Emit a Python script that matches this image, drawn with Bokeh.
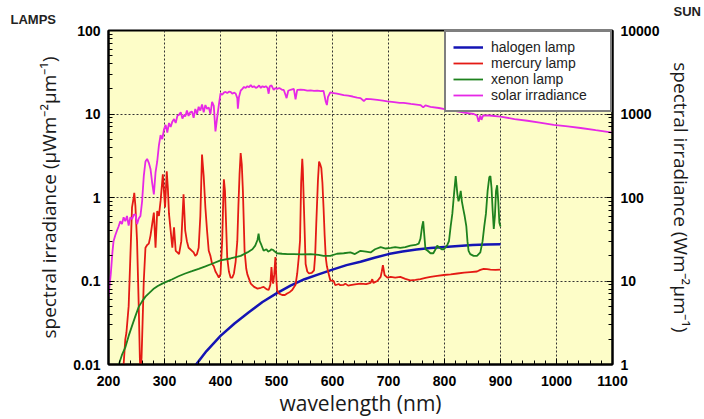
from bokeh.plotting import figure
from bokeh.models import (Range1d, LogScale, LogAxis, FixedTicker, CustomJSTickFormatter,
                          Legend, LegendItem, Label)
from bokeh.embed import file_html
from bokeh.resources import INLINE

# ---------------- data ----------------
halogen_wl = [355, 375, 400, 425, 450, 475, 500, 525, 550, 575, 600, 625, 650, 675, 700,
              725, 750, 775, 800, 825, 850, 875, 900]
halogen_val = [0.0097, 0.0145, 0.022, 0.031, 0.042, 0.056, 0.071, 0.088, 0.105, 0.12, 0.137,
               0.155, 0.17, 0.19, 0.21, 0.225, 0.238, 0.248, 0.256, 0.263, 0.27, 0.273, 0.275]

mercury_wl = [224, 227, 230, 232, 236, 240, 242, 245, 246, 248, 251, 254, 256, 257, 259, 260,
              263, 266, 269, 272, 275, 278, 281, 284, 287, 290, 293, 297, 299, 301, 304, 306,
              308, 311, 314, 317, 320, 323, 326, 330, 334, 337, 340, 343, 346, 349, 352, 355,
              358, 361, 364, 367, 370, 373, 376, 379, 382, 385, 388, 391, 394, 397, 400, 403,
              405, 406, 408, 409, 412, 415, 418, 421, 424, 427, 430, 432, 434, 436, 438, 440,
              443, 446, 448, 454, 460, 466, 472, 477, 482, 486, 489, 491, 493, 494, 496, 498,
              500, 501, 504, 510, 515, 519, 524, 528, 534, 537, 540, 542, 544, 546, 547, 549,
              552, 555, 558, 563, 567, 569, 571, 574, 576, 578, 580, 582, 584, 586, 588, 590,
              593, 596, 602, 605, 611, 614, 620, 623, 628, 632, 640, 650, 660, 668, 671, 673,
              680, 686, 688, 690, 693, 698, 704, 712, 721, 730, 739, 748, 757, 766, 775, 787,
              799, 811, 823, 835, 846, 858, 864, 870, 876, 882, 891, 900]
mercury_val = [0.006, 0.01, 0.02, 0.024, 0.05, 0.3, 0.76, 1.0, 1.14, 0.8, 0.3, 0.05, 0.012, 0.008,
               0.012, 0.02, 0.1, 0.25, 0.27, 0.28, 0.35, 0.48, 0.66, 0.25, 0.69, 0.6, 0.91, 1.89,
               1.2, 0.76, 2.06, 1.3, 0.64, 0.4, 0.25, 0.44, 0.23, 0.22, 0.21, 0.3, 1.09, 0.40,
               0.3, 0.25, 0.24, 0.23, 0.22, 0.20, 0.21, 0.25, 0.6, 3.27, 1.8, 0.76, 0.4, 0.23,
               0.2, 0.16, 0.15, 0.13, 0.12, 0.11, 0.12, 0.30, 1.0, 1.65, 1.2, 0.76, 0.19, 0.13,
               0.11, 0.11, 0.123, 0.17, 0.30, 0.8, 1.89, 3.4, 2.5, 1.2, 0.23, 0.14, 0.12, 0.093,
               0.085, 0.081, 0.083, 0.085, 0.08, 0.078, 0.09, 0.147, 0.1, 0.093, 0.12, 0.193,
               0.1, 0.078, 0.071, 0.068, 0.068, 0.071, 0.074, 0.078, 0.09, 0.123, 0.2, 0.305,
               1.5, 2.9, 2.2, 0.76, 0.16, 0.13, 0.123, 0.125, 0.134, 0.2, 0.48, 1.6, 2.7, 2.5,
               2.26, 1.5, 0.76, 0.35, 0.19, 0.15, 0.123, 0.102, 0.1, 0.089, 0.092, 0.089, 0.09,
               0.093, 0.088, 0.089, 0.091, 0.093, 0.092, 0.095, 0.105, 0.095, 0.1, 0.112, 0.13,
               0.155, 0.118, 0.11, 0.112, 0.11, 0.112, 0.106, 0.102, 0.103, 0.105, 0.109, 0.112,
               0.115, 0.118, 0.12, 0.123, 0.126, 0.128, 0.13, 0.136, 0.14, 0.139, 0.137, 0.136,
               0.137]

xenon_wl = [218, 224, 230, 236, 242, 248, 254, 260, 266, 272, 280, 288, 296, 305, 314, 325, 337,
            349, 361, 373, 385, 400, 418, 436, 448, 457, 462, 466, 468, 470, 473, 477, 482, 485,
            488, 491, 494, 497, 501, 510, 520, 531, 545, 561, 575, 584, 596, 608, 620, 632, 640,
            650, 660, 668, 676, 686, 695, 704, 712, 721, 730, 739, 748, 754, 757, 760, 762, 764,
            766, 770, 775, 780, 784, 787, 791, 795, 799, 805, 808, 811, 814, 817, 820, 823, 825,
            827, 829, 831, 834, 836, 839, 841, 843, 846, 852, 858, 864, 868, 871, 874, 877, 880,
            882, 884, 886, 888, 890, 892, 894, 896, 898, 900]
xenon_val = [0.0098, 0.013, 0.016, 0.022, 0.029, 0.038, 0.049, 0.057, 0.065, 0.071, 0.08, 0.087,
             0.093, 0.099, 0.105, 0.114, 0.123, 0.131, 0.14, 0.15, 0.161, 0.177, 0.186, 0.2,
             0.22, 0.24, 0.265, 0.31, 0.37, 0.3, 0.27, 0.23, 0.24, 0.225, 0.23, 0.24, 0.235,
             0.225, 0.215, 0.212, 0.21, 0.21, 0.208, 0.21, 0.205, 0.2, 0.2, 0.212, 0.215, 0.22,
             0.21, 0.23, 0.225, 0.22, 0.24, 0.254, 0.245, 0.25, 0.255, 0.25, 0.255, 0.265, 0.27,
             0.28, 0.32, 0.45, 0.52, 0.35, 0.24, 0.23, 0.215, 0.215, 0.24, 0.265, 0.25, 0.24,
             0.24, 0.27, 0.3, 0.45, 0.64, 1.1, 1.8, 1.1, 0.9, 1.0, 1.2, 0.9, 0.7, 0.6, 0.45, 0.3,
             0.23, 0.21, 0.2, 0.2, 0.22, 0.3, 0.45, 0.64, 1.2, 1.75, 1.8, 1.3, 0.7, 0.42, 0.6,
             1.2, 1.4, 0.9, 0.5, 0.45]

# solar irradiance in W m^-2 um^-1 (right axis)
solar_wl = [200, 202, 204, 207, 209, 212, 215, 218, 221, 224, 227, 230, 233, 236, 239, 242, 245,
            248, 251, 254, 257, 260, 263, 266, 269, 272, 275, 278, 281, 284, 287, 290, 293, 296,
            299, 302, 305, 308, 311, 314, 317, 320, 323, 326, 329, 332, 335, 337, 340, 343, 346,
            349, 352, 355, 358, 361, 364, 367, 370, 373, 376, 379, 382, 385, 388, 391, 394, 397,
            400, 403, 406, 409, 412, 415, 418, 421, 424, 427, 430, 431, 433, 436, 439, 442, 445,
            448, 451, 454, 457, 460, 463, 466, 469, 472, 475, 478, 481, 484, 486, 488, 491, 495,
            498, 501, 505, 510, 513, 516, 518, 521, 525, 531, 534, 537, 543, 549, 555, 561, 567,
            573, 579, 584, 588, 590, 592, 596, 602, 608, 614, 620, 628, 636, 644, 650, 656, 660,
            668, 680, 690, 698, 710, 720, 727, 740, 757, 762, 766, 775, 790, 805, 820, 835, 852,
            858, 861, 864, 866, 869, 880, 900, 925, 948, 970, 995, 1020, 1043, 1070, 1100]
solar_val = [6.5, 9, 12, 22, 30, 35, 40, 45, 52, 48, 58, 52, 60, 46, 58, 55, 62, 63, 48, 56, 60,
             90, 180, 270, 290, 260, 220, 150, 109, 200, 270, 420, 560, 500, 650, 740, 600, 780,
             700, 810, 870, 780, 950, 980, 1050, 880, 980, 930, 1100, 950, 1050, 1070, 900, 1150,
             1000, 1220, 1100, 1300, 1050, 1280, 1150, 1200, 1000, 1400, 1250, 620, 900, 1280,
             1760, 1700, 1800, 1840, 1780, 1850, 1840, 1750, 1800, 1760, 1550, 1160, 1600, 1900,
             2000, 2110, 2050, 2150, 2100, 2220, 2100, 2150, 2050, 2100, 2200, 2050, 2150, 2100,
             2150, 2050, 1750, 2150, 2200, 1940, 2050, 2000, 2050, 1950, 1940, 1700, 1550, 1900,
             1950, 2000, 1500, 1950, 1960, 1940, 1900, 1920, 1890, 1900, 1880, 1890, 1400, 1280,
             1600, 1810, 1780, 1750, 1720, 1680, 1660, 1620, 1570, 1550, 1430, 1520, 1510, 1480,
             1450, 1420, 1390, 1360, 1360, 1320, 1280, 1200, 1270, 1220, 1180, 1130, 1080, 1040,
             1000, 960, 810, 960, 850, 960, 960, 930, 870, 830, 790, 740, 710, 680, 640, 600]

x_ticks = [200, 300, 400, 500, 600, 700, 800, 900, 1000, 1100]
left_ticks = [0.01, 0.1, 1, 10, 100]
right_ticks = [1, 10, 100, 1000, 10000]

series_names = ["halogen lamp", "mercury lamp", "xenon lamp", "solar irradiance"]
series_colors = ["#1414b4", "#e41a14", "#1e821e", "#e628e6"]

# ---------------- figure ----------------
W, H = 704, 419
tick_font = "Liberation Sans"
label_font = "Open Sans"

p = figure(width=W, height=H, x_range=Range1d(200, 1100), y_range=Range1d(0.01, 100),
           y_axis_type="log", output_backend="svg", toolbar_location=None,
           min_border_left=108, min_border_right=92, min_border_top=28, min_border_bottom=54)
p.extra_y_ranges = {"sun": Range1d(1, 10000)}
p.extra_y_scales = {"sun": LogScale()}

p.background_fill_color = "#fdfdc8"
p.border_fill_color = "white"
p.outline_line_color = "black"
p.outline_line_width = 2

def minor_log(ticks):
    out = []
    for t in ticks[:-1]:
        out += [t * k for k in range(2, 10)]
    return out

fmt = CustomJSTickFormatter(code="return String(Number(tick.toPrecision(6)));")

# x axis
xa = p.xaxis[0]
xa.ticker = FixedTicker(ticks=x_ticks,
                        minor_ticks=[v for v in range(200, 1101, 20) if v not in x_ticks])
xa.axis_label = "wavelength (nm)"

# left axis
ya = p.yaxis[0]
ya.ticker = FixedTicker(ticks=left_ticks, minor_ticks=minor_log(left_ticks))
ya.formatter = fmt
ya.axis_label = "spectral irradiance (µWm⁻²µm⁻¹)"

# right axis
ra = LogAxis(y_range_name="sun",
             ticker=FixedTicker(ticks=right_ticks, minor_ticks=minor_log(right_ticks)),
             formatter=fmt, axis_label="spectral irradiance (Wm⁻²µm⁻¹)")
p.add_layout(ra, "right")

for ax in [xa, ya, ra]:
    ax.major_label_text_font = tick_font
    ax.major_label_text_font_style = "bold"
    ax.major_label_text_font_size = "14px"
    ax.major_label_text_color = "black"
    ax.axis_label_text_font = label_font
    ax.axis_label_text_font_style = "normal"
    ax.axis_label_text_font_size = "19px"
    ax.axis_label_text_color = "#1a1a1a"
    ax.axis_line_color = "black"
    ax.axis_line_width = 2
    ax.major_tick_in = 6
    ax.major_tick_out = 0
    ax.minor_tick_in = 4
    ax.minor_tick_out = 0
    ax.major_tick_line_color = "black"
    ax.minor_tick_line_color = "black"
    ax.major_label_standoff = 8

xa.axis_label_text_font_size = "21px"
xa.major_label_standoff = 11
xa.axis_label_standoff = 0
ya.axis_label_standoff = 8
ra.axis_label_standoff = 6

p.xgrid.ticker = xa.ticker
p.ygrid.ticker = ya.ticker
for g in [p.xgrid[0], p.ygrid[0]]:
    g.grid_line_color = "#333333"
    g.grid_line_dash = "2 2"
    g.grid_line_width = 1
    g.minor_grid_line_color = None

# ---------------- lines ----------------
r_h = p.line(halogen_wl, halogen_val, line_color=series_colors[0], line_width=2.5)
r_m = p.line(mercury_wl, mercury_val, line_color=series_colors[1], line_width=1.8)
r_x = p.line(xenon_wl, xenon_val, line_color=series_colors[2], line_width=1.8)
r_s = p.line(solar_wl, solar_val, line_color=series_colors[3], line_width=1.8,
             y_range_name="sun")

legend = Legend(items=[LegendItem(label=n, renderers=[r]) for n, r in
                       zip(series_names, [r_h, r_m, r_x, r_s])],
                location="top_right")
legend.margin = 0
legend.padding = 7
legend.spacing = 0
legend.label_height = 14
legend.glyph_height = 14
legend.glyph_width = 30
legend.label_standoff = 8
legend.label_width = 112
legend.label_text_font = "Liberation Sans"
legend.label_text_font_size = "14px"
legend.label_text_color = "#222222"
legend.border_line_color = "black"
legend.border_line_width = 2
legend.background_fill_color = "white"
legend.background_fill_alpha = 1
p.add_layout(legend)

p.add_layout(Label(x=-98, y=4, x_units="screen", y_units="screen", text="LAMPS",
                   text_font=tick_font, text_font_style="bold", text_font_size="13px",
                   text_color="#222222"), "above")
p.add_layout(Label(x=565, y=-3, x_units="screen", y_units="screen", text="SUN",
                   text_font=tick_font, text_font_style="bold", text_font_size="13px",
                   text_color="#222222"), "above")

open("out.html", "w").write(file_html(p, INLINE))
